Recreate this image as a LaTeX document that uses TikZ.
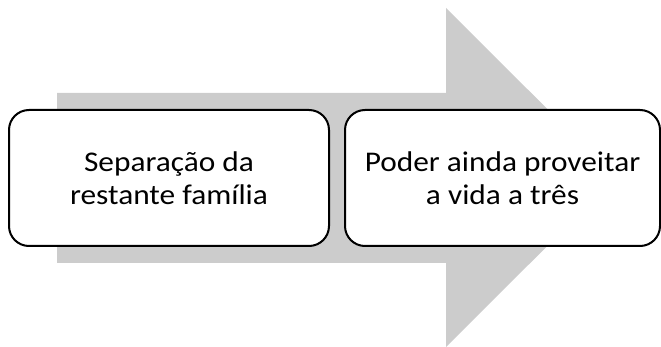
\documentclass[tikz,border=0pt]{standalone}
\usepackage{fontspec}
\setmainfont{Carlito}[FakeStretch=1.1]
\definecolor{arrowgray}{HTML}{CCCCCC}
\begin{document}
\begin{tikzpicture}[x=1pt,y=-1pt,
  stepbox/.style={draw=black,line width=2pt,fill=white,rounded corners=20pt,
    minimum width=320pt,minimum height=136pt,inner sep=0pt},
  steptext/.style={align=center,font=\fontsize{28.5}{33}\selectfont,inner sep=0pt}]
\useasboundingbox (0,0) rectangle (661,347);
\fill[arrowgray] (57,93) -- (446,93) -- (446,8) -- (616,177.5) -- (446,347) -- (446,263) -- (57,263) -- cycle;
\node[stepbox] (a) at (169,178) {};
\node[stepbox,minimum width=315pt] (b) at (502.5,178) {};
\node[steptext] (ta) at (a.center) {Separação da\\restante família};
\node[steptext] (tb) at (b.center) {Poder ainda proveitar\\a vida a três};
\end{tikzpicture}
\end{document}
